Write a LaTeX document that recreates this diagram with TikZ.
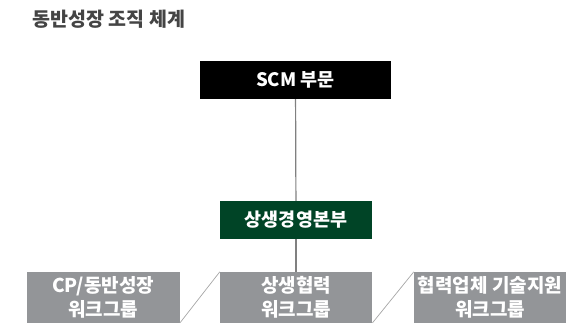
\documentclass[tikz,border=0pt]{standalone}
\usepackage{fontspec}
\setmainfont{Noto Sans CJK KR}
\definecolor{boxgreen}{RGB}{0,68,38}
\definecolor{boxgray}{RGB}{147,149,152}
\definecolor{titlegray}{RGB}{68,68,68}
\begin{document}
\begin{tikzpicture}[x=1pt, y=-1pt,
        headbox/.style={fill=black, text=white, font=\bfseries\fontsize{18.5}{20}\selectfont, minimum width=191pt, minimum height=38pt, inner sep=0pt},
        unitbox/.style={fill=boxgreen, text=white, font=\bfseries\fontsize{18.5}{20}\selectfont, minimum width=152pt, minimum height=38pt, inner sep=0pt},
        groupbox/.style={fill=boxgray, text=white, font=\bfseries\fontsize{19}{24}\selectfont, align=center, minimum width=152pt, minimum height=51pt, inner sep=0pt}]
        \useasboundingbox (0, 0) rectangle (586, 323);
        \node[anchor=west, text=titlegray, font=\bfseries\fontsize{19.5}{20}\selectfont] (title) at (29, 19) {동반성장 조직 체계};
        \node[headbox] (scm) at (295.5, 80) {SCM 부문};
        \node[unitbox] (center) at (296, 220) {상생경영본부};
        \node[groupbox, minimum width=153pt] (cp) at (103, 297.5) {CP/동반성장\\워크그룹};
        \node[groupbox] (coop) at (296, 297.5) {상생협력\\워크그룹};
        \node[groupbox] (tech) at (490, 297.5) {협력업체 기술지원\\워크그룹};
        \draw[gray, line width=1.2pt] (scm) -- (center);
        \draw[gray, line width=1.2pt] (center) -- (coop);
        \draw[gray!70, line width=0.7pt] (cp.south east) -- (coop.north west);
        \draw[gray!70, line width=0.7pt] (coop.south east) -- (tech.north west);
    \end{tikzpicture}
\end{document}
